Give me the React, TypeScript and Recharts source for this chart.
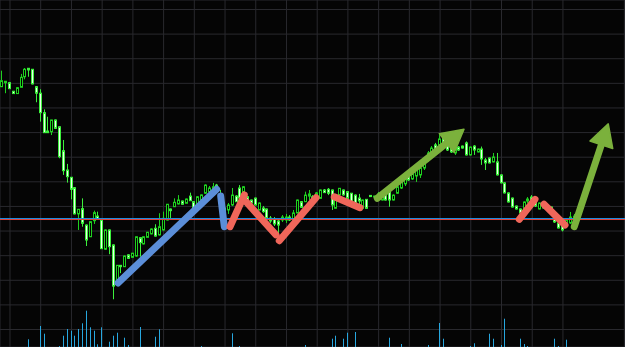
import React from 'react';
import { ComposedChart, Bar, XAxis, YAxis, CartesianGrid, ReferenceLine } from 'recharts';

const opens = [
  271.6, 275.7, 275.7, 267.0, 264.6, 271.0, 281.7, 290.3, 289.3, 271.6,
  265.0, 245.2, 226.6, 225.9, 237.8, 230.9, 206.6, 187.0, 179.6, 169.0,
  142.4, 147.7, 131.1, 119.2, 135.5, 140.2, 136.2, 106.5, 126.1, 110.9,
  73.6, 90.2, 88.8, 100.8, 98.3, 99.6, 118.2, 111.9, 118.6, 122.1,
  127.8, 121.1, 126.1, 136.2, 147.4, 149.7, 152.5, 155.5, 153.2, 160.5,
  154.8, 149.7, 156.5, 163.4, 165.0, 166.7, 171.7, 161.7, 148.4, 146.4,
  151.5, 160.5, 168.7, 165.0, 159.8, 156.5, 158.5, 146.4, 148.4, 147.4,
  138.2, 137.2, 135.2, 136.2, 136.2, 139.2, 136.2, 143.4, 154.8, 154.8,
  160.5, 159.8, 156.5, 158.2, 166.7, 167.4, 166.7, 148.1, 161.7, 166.7,
  165.0, 163.4, 161.5, 158.5, 148.1, 157.2, 161.2, 159.5, 158.5, 156.5,
  163.4, 165.0, 156.5, 163.4, 168.7, 172.9, 182.0, 177.9, 180.9, 182.0,
  189.0, 197.2, 204.3, 212.5, 212.5, 219.5, 214.5, 209.3, 204.3, 210.3,
  211.3, 214.5, 202.3, 211.3, 205.3, 208.3, 197.2, 199.2, 195.2, 195.2,
  182.0, 173.9, 163.7, 158.5, 150.4, 147.4, 146.4, 155.5, 159.5, 155.5,
  147.4, 153.5, 151.5, 149.4, 143.4, 133.2, 131.1, 131.1, 133.2, 134.2,
];

const closes = [
  277.7, 277.1, 269.6, 264.6, 270.6, 281.1, 289.3, 288.6, 274.4, 265.0,
  245.2, 224.9, 224.9, 237.8, 229.3, 200.5, 186.3, 180.2, 167.4, 142.4,
  147.1, 132.9, 115.9, 134.5, 143.7, 136.9, 107.1, 126.1, 109.1, 69.1,
  90.2, 88.8, 99.6, 97.3, 102.5, 119.2, 113.2, 119.2, 123.8, 127.1,
  119.9, 129.4, 137.9, 152.2, 145.7, 154.2, 156.5, 152.2, 157.5, 155.8,
  144.7, 159.8, 161.7, 171.7, 168.7, 170.0, 167.7, 146.4, 143.4, 151.5,
  161.5, 154.8, 158.5, 170.0, 156.5, 153.5, 151.5, 153.5, 144.7, 138.2,
  135.2, 132.2, 131.1, 139.2, 139.2, 136.2, 143.4, 156.5, 149.1, 161.5,
  162.7, 153.5, 163.7, 166.7, 164.0, 163.4, 151.5, 156.5, 168.4, 161.7,
  158.2, 154.8, 153.2, 155.5, 156.5, 148.1, 160.0, 160.5, 162.7, 165.0,
  156.5, 156.5, 161.5, 170.0, 174.9, 178.9, 176.9, 183.0, 187.0, 189.0,
  197.2, 204.3, 209.3, 207.3, 218.5, 214.5, 207.3, 205.3, 209.3, 207.3,
  209.3, 202.3, 210.3, 207.3, 208.3, 198.2, 194.2, 194.2, 200.2, 182.0,
  173.9, 163.7, 154.5, 149.4, 147.4, 143.4, 154.5, 157.5, 153.5, 150.4,
  153.5, 148.4, 146.4, 143.4, 134.2, 128.1, 126.1, 136.2, 139.2, 140.2,
];

const highs = [
  287.9, 277.4, 276.4, 267.3, 271.3, 284.6, 290.6, 290.6, 289.6, 272.3,
  269.0, 248.6, 241.1, 238.0, 238.3, 231.1, 217.5, 193.2, 179.9, 169.7,
  147.4, 158.2, 131.7, 134.7, 145.7, 144.7, 136.7, 126.6, 126.6, 111.4,
  90.5, 90.5, 100.1, 101.3, 102.8, 119.4, 118.4, 119.4, 124.1, 127.6,
  131.9, 143.1, 144.7, 152.5, 147.9, 158.2, 161.5, 156.0, 158.0, 164.0,
  155.5, 160.5, 162.2, 172.4, 170.7, 173.9, 172.9, 166.7, 151.5, 153.5,
  168.7, 161.5, 171.7, 170.7, 160.5, 157.0, 159.0, 154.0, 150.4, 147.9,
  140.2, 139.2, 137.2, 141.2, 142.4, 141.2, 146.4, 157.0, 155.5, 165.0,
  166.7, 161.5, 164.7, 167.2, 167.7, 168.7, 167.2, 157.0, 168.7, 167.2,
  165.2, 163.7, 162.2, 162.7, 157.0, 157.5, 161.5, 161.0, 164.7, 165.2,
  163.7, 165.2, 162.2, 173.9, 175.9, 180.9, 183.0, 185.0, 189.0, 191.0,
  199.2, 206.3, 211.3, 214.5, 224.6, 220.5, 215.5, 210.3, 210.3, 211.3,
  211.8, 216.0, 210.8, 212.3, 208.8, 210.8, 199.2, 199.7, 204.3, 204.3,
  182.5, 174.4, 164.2, 159.0, 150.9, 147.9, 155.0, 159.5, 161.5, 157.5,
  154.0, 154.0, 152.0, 149.9, 144.4, 133.7, 131.7, 136.7, 144.4, 142.4,
];

const lows = [
  271.3, 265.0, 269.3, 264.3, 264.3, 270.8, 279.1, 281.7, 273.9, 255.8,
  236.1, 224.6, 224.6, 222.5, 228.6, 198.9, 182.0, 174.2, 157.2, 141.9,
  126.1, 129.4, 109.8, 118.9, 132.2, 136.2, 106.8, 105.8, 101.5, 55.7,
  73.3, 82.2, 88.5, 96.6, 98.1, 99.1, 98.9, 111.4, 118.4, 121.6,
  119.4, 120.4, 125.6, 135.7, 138.2, 149.4, 152.0, 152.0, 153.0, 155.5,
  144.4, 149.4, 155.5, 162.7, 161.7, 165.7, 164.7, 144.4, 141.4, 142.4,
  150.4, 154.5, 157.5, 164.7, 155.5, 153.0, 150.9, 145.9, 143.4, 137.7,
  133.2, 130.1, 122.1, 134.2, 133.2, 135.2, 135.2, 142.9, 148.9, 154.5,
  156.5, 152.5, 155.5, 158.0, 163.7, 161.5, 146.4, 147.9, 161.0, 161.0,
  158.0, 154.5, 153.0, 149.4, 147.9, 147.9, 159.5, 159.0, 157.5, 156.0,
  156.0, 149.7, 156.0, 162.7, 167.7, 170.7, 175.9, 176.9, 174.9, 178.9,
  187.0, 195.2, 203.3, 205.3, 211.3, 213.5, 206.3, 204.3, 202.3, 206.3,
  208.8, 201.7, 201.7, 202.3, 204.8, 192.2, 187.0, 193.7, 194.7, 181.4,
  173.4, 163.2, 154.0, 148.9, 146.9, 142.9, 145.9, 153.5, 152.5, 149.4,
  146.9, 147.9, 145.9, 142.9, 133.2, 127.6, 124.6, 130.6, 132.2, 130.1,
];

const volumes = [
  0, 0, 0, 0, 0, 0, 0, 77, 0, 0,
  210, 133, 0, 0, 0, 10, 113, 180, 163, 113,
  180, 237, 363, 197, 163, 27, 197, 0, 53, 113,
  143, 0, 93, 20, 0, 0, 200, 0, 0, 0,
  103, 177, 0, 0, 0, 0, 0, 0, 0, 0,
  0, 0, 10, 0, 0, 0, 0, 0, 0, 0,
  137, 0, 10, 0, 0, 0, 0, 0, 0, 0,
  0, 0, 0, 0, 0, 0, 0, 0, 0, 20,
  0, 0, 0, 0, 0, 0, 83, 113, 0, 83,
  143, 0, 150, 0, 0, 0, 0, 0, 0, 0,
  0, 93, 0, 0, 30, 0, 0, 0, 0, 0,
  0, 20, 0, 0, 240, 83, 0, 0, 0, 0,
  0, 0, 10, 37, 0, 0, 0, 133, 83, 0,
  20, 283, 0, 0, 0, 83, 30, 10, 0, 0,
  0, 0, 0, 0, 83, 10, 0, 73, 0, 0,
];

const xTicks = [2, 10, 18, 26, 34, 42, 50, 58, 66, 74, 82, 90, 98, 106, 114, 122, 130, 138, 146, 154, 162];
const yTicks = [25, 50, 75, 100, 125, 150, 175, 200, 225, 250, 275, 300, 325, 350];

const supportLevel = 137.7;
const supportLevelLow = 136.7;

type Seg = [[number, number], [number, number]];
const blueSegments: Seg[] = [
  [[30.13, 72.3], [55.83, 167.4]],
  [[56.87, 160.5], [57.81, 129.4]],
];
const redSegments: Seg[] = [
  [[59.29, 129.4], [63.02, 161.6]],
  [[63.64, 154.2], [71.27, 121.1]],
  [[72.13, 115.2], [81.69, 158.8]],
  [[86.45, 159.8], [93.15, 148.7]],
  [[134.63, 136.9], [138.72, 157.2]],
  [[141.06, 152.2], [146.53, 131.1]],
];
const greenArrows: Seg[] = [
  [[97.65, 158.2], [120.23, 228.3]],
  [[148.95, 129.4], [157.8, 233.8]],
];

const data = opens.map((o, i) => ({
  i,
  open: o,
  close: closes[i],
  high: highs[i],
  low: lows[i],
  range: [lows[i], highs[i]],
  vol: volumes[i],
}));

const BULL = '#1fd11f';
const BEAR = '#3cf03c';
const BEAR_FILL = '#e9ffe9';

const Candle = (props: any) => {
  const { x, y, width, height, payload } = props;
  if (x == null || y == null || !payload) return null;
  const { open, close, high, low } = payload;
  const top = Math.min(y, y + (height || 0));
  const h = Math.abs(height || 0);
  const span = high - low;
  const py = (p: number) => (span > 0 ? top + ((high - p) / span) * h : top);
  const cx = Math.round(x + width / 2 - 0.5) + 0.5;
  const up = close >= open;
  const stroke = up ? BULL : BEAR;
  const bt = py(Math.max(open, close));
  const bb = py(Math.min(open, close));
  return (
    <g>
      <line x1={cx} x2={cx} y1={top} y2={top + h} stroke={stroke} strokeWidth={1} />
      <rect
        x={cx - 1}
        y={bt}
        width={2}
        height={Math.max(bb - bt, 0.8)}
        fill={up ? '#000000' : BEAR_FILL}
        stroke={stroke}
        strokeWidth={1}
      />
    </g>
  );
};

const VolBar = (props: any) => {
  const { x, y, width, height } = props;
  if (!height || height <= 0) return null;
  const cx = Math.round(x + width / 2 - 0.5);
  return <rect x={cx} y={y} width={1} height={height} fill="#27a7df" />;
};

const strokeShape = (color: string) => (props: any) => {
  const { x1, y1, x2, y2 } = props;
  if (x1 == null) return null;
  return (
    <line x1={x1} y1={y1} x2={x2} y2={y2} stroke={color} strokeWidth={7} strokeLinecap="round" />
  );
};

const arrowShape = (color: string) => (props: any) => {
  const { x1, y1, x2, y2 } = props;
  if (x1 == null) return null;
  const dx = x2 - x1;
  const dy = y2 - y1;
  const len = Math.hypot(dx, dy) || 1;
  const ux = dx / len;
  const uy = dy / len;
  const px = -uy;
  const pyy = ux;
  const headLen = 22;
  const headW = 12;
  const bx = x2 - ux * headLen;
  const by = y2 - uy * headLen;
  return (
    <g>
      <line
        x1={x1}
        y1={y1}
        x2={bx + ux * 4}
        y2={by + uy * 4}
        stroke={color}
        strokeWidth={7}
        strokeLinecap="round"
      />
      <polygon
        points={`${x2},${y2} ${bx + px * headW},${by + pyy * headW} ${bx - px * headW},${by - pyy * headW}`}
        fill={color}
        stroke={color}
        strokeWidth={1.5}
        strokeLinejoin="round"
      />
    </g>
  );
};

const BLUE = '#5b8ed8';
const RED = '#f0665a';
const GREEN = '#7bb13c';

export default function App() {
  return (
    <div style={{ position: 'absolute', left: 0, top: 0, width: 625, height: 347, background: '#050505' }}>
      <ComposedChart width={625} height={347} data={data} margin={{ top: 0, right: 0, bottom: 0, left: 0 }}>
        <XAxis
          dataKey="i"
          type="number"
          domain={[-0.604, 162.16]}
          ticks={xTicks}
          allowDataOverflow
          hide
        />
        <XAxis xAxisId="vol" dataKey="i" type="number" domain={[-0.604, 162.16]} allowDataOverflow hide />
        <YAxis type="number" domain={[7.23, 359.65]} ticks={yTicks} allowDataOverflow hide />
        <YAxis yAxisId="vol" type="number" domain={[0, 3470]} allowDataOverflow hide />
        <CartesianGrid stroke="#29292e" strokeWidth={1} vertical horizontal />
        <Bar dataKey="range" barSize={3} shape={Candle} isAnimationActive={false} />
        <Bar dataKey="vol" xAxisId="vol" yAxisId="vol" barSize={1} shape={VolBar} isAnimationActive={false} />
        <ReferenceLine y={supportLevel} stroke="#1f8fe6" strokeWidth={1} />
        <ReferenceLine y={supportLevelLow} stroke="#e2453c" strokeWidth={1} />
        {blueSegments.map((s, k) => (
          <ReferenceLine
            key={`b${k}`}
            segment={[{ x: s[0][0], y: s[0][1] }, { x: s[1][0], y: s[1][1] }]}
            shape={strokeShape(BLUE)}
          />
        ))}
        {redSegments.map((s, k) => (
          <ReferenceLine
            key={`r${k}`}
            segment={[{ x: s[0][0], y: s[0][1] }, { x: s[1][0], y: s[1][1] }]}
            shape={strokeShape(RED)}
          />
        ))}
        {greenArrows.map((s, k) => (
          <ReferenceLine
            key={`g${k}`}
            segment={[{ x: s[0][0], y: s[0][1] }, { x: s[1][0], y: s[1][1] }]}
            shape={arrowShape(GREEN)}
          />
        ))}
      </ComposedChart>
    </div>
  );
}
